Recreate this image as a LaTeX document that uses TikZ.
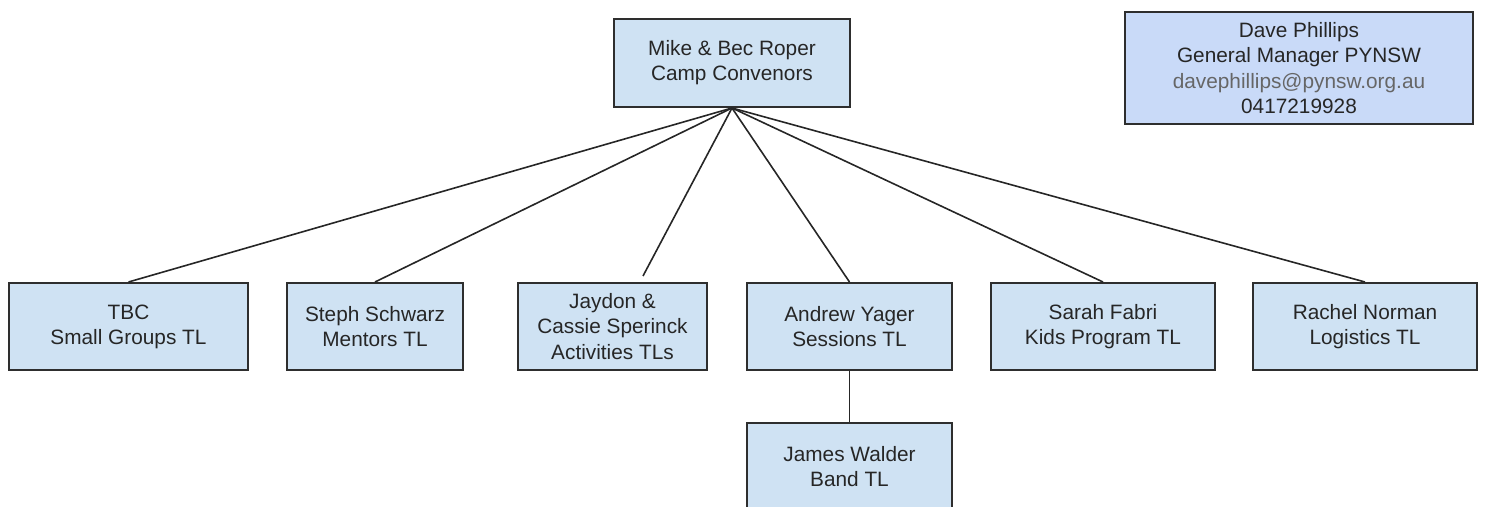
\documentclass[tikz,border=0pt]{standalone}
\usepackage{fontspec}
\setsansfont{Liberation Sans}
\usepackage{xcolor}
\definecolor{teamblue}{HTML}{CFE2F3}
\definecolor{gmblue}{HTML}{C9DAF8}
\definecolor{edgegrey}{HTML}{2E2E2E}
\definecolor{mailgrey}{HTML}{666666}
\usepackage{tikz}
\usetikzlibrary{positioning}

\begin{document}
\begin{tikzpicture}[
  x=0.5pt, y=-0.5pt,
  font=\sffamily\fontsize{10.4}{12.6}\selectfont,
  role/.style={draw=edgegrey, line width=1pt, fill=teamblue, align=center, inner sep=0pt, text=black!85, minimum height=43.5pt},
  gm/.style={role, fill=gmblue, minimum height=56pt},
  link/.style={draw=black!85, line width=0.8pt},
]
  \useasboundingbox (0,0) rectangle (1485,507);
  \clip (0,0) rectangle (1485,507);
  % top of the tree
  \node[role, minimum width=118pt, minimum height=44pt] (conv) at (732,63) {Mike \& Bec Roper\\Camp Convenors};
  \node[gm, minimum width=174pt] (gm) at (1299,68) {Dave Phillips\\General Manager PYNSW\\{\color{mailgrey}davephillips@pynsw.org.au}\\0417219928};
  % team leaders
  \node[role, minimum width=119.5pt] (tbc) at (128.5,326.5) {TBC\\Small Groups TL};
  \node[role, minimum width=88pt] (steph) at (375,326.5) {Steph Schwarz\\Mentors TL};
  \node[role, minimum width=94.5pt] (jaydon) at (612.5,326.5) {Jaydon \&\\Cassie Sperinck\\Activities TLs};
  \node[role, minimum width=102.5pt] (andrew) at (849.5,326.5) {Andrew Yager\\Sessions TL};
  \node[role, minimum width=112pt] (sarah) at (1103,326.5) {Sarah Fabri\\Kids Program TL};
  \node[role, minimum width=112pt] (rachel) at (1365,326.5) {Rachel Norman\\Logistics TL};
  \node[role, minimum width=102.5pt] (james) at (849.5,466.5) {James Walder\\Band TL};
  \coordinate (jaytop) at (643,276);
  \draw[link] (conv.south) -- (tbc.north);
  \draw[link] (conv.south) -- (steph.north);
  \draw[link] (conv.south) -- (jaytop);
  \draw[link] (conv.south) -- (andrew.north);
  \draw[link] (conv.south) -- (sarah.north);
  \draw[link] (conv.south) -- (rachel.north);
  \draw[link] (andrew.south) -- (james.north);
\end{tikzpicture}
\end{document}
